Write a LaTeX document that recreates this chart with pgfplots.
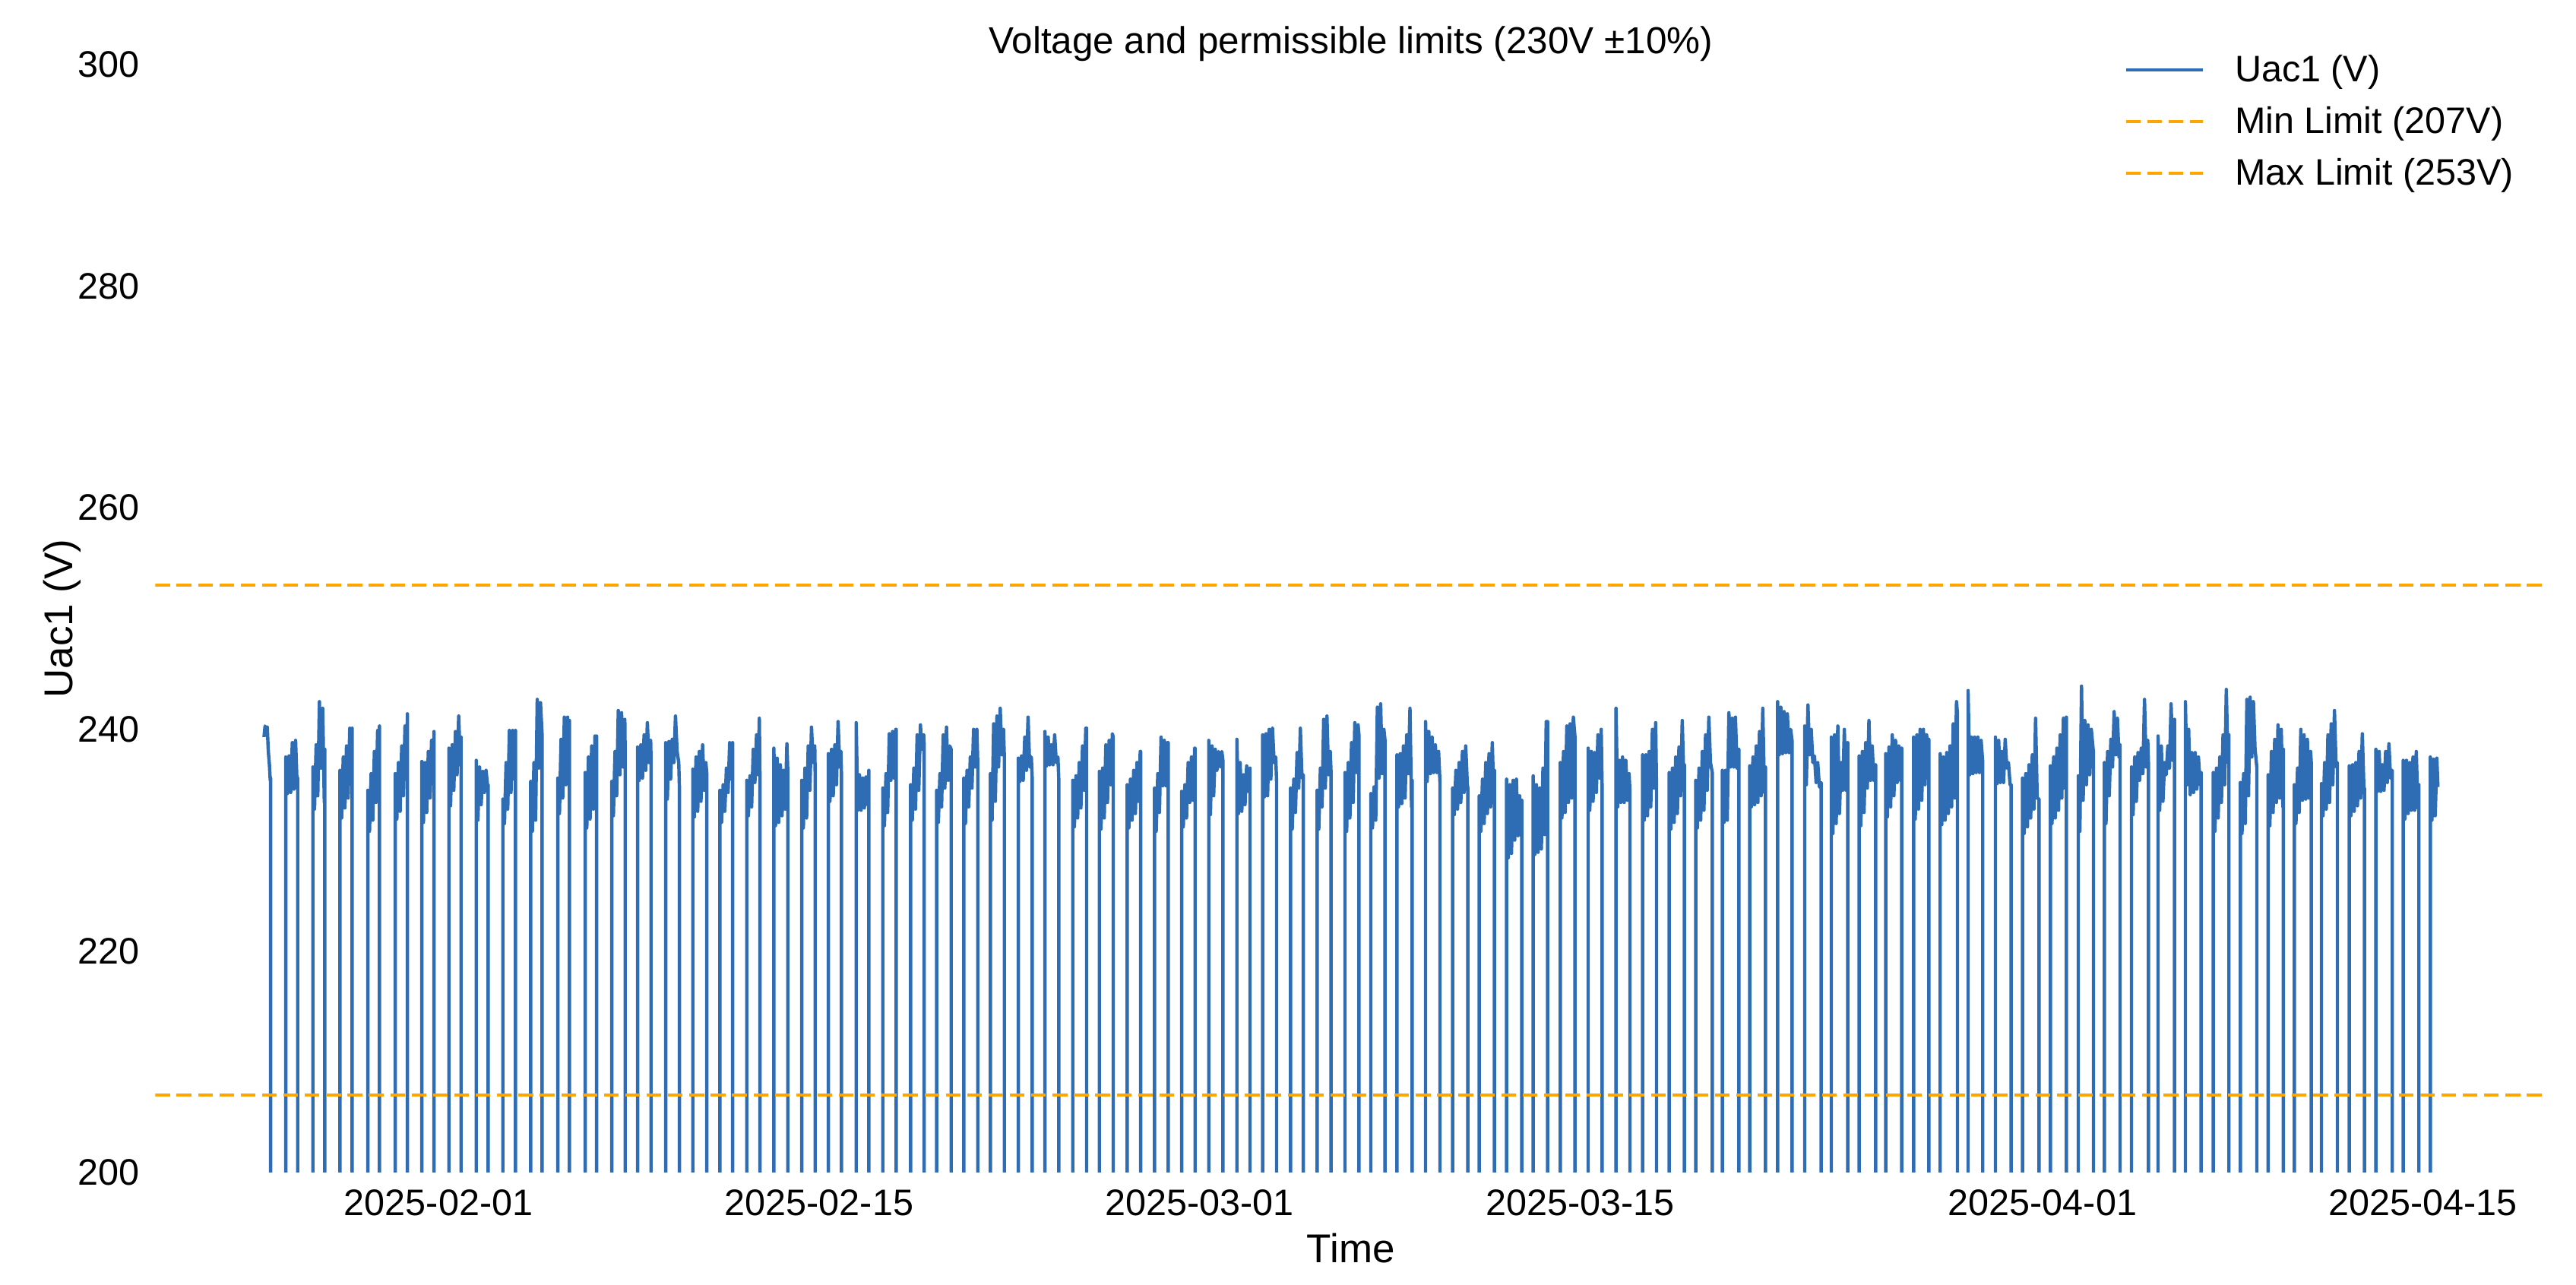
\documentclass[border=0pt]{standalone}
\usepackage{fontspec}
\setmainfont{Liberation Sans}
\usepackage{pgfplots}
\usepackage{pgfplotstable}
\pgfplotsset{compat=1.18}
\definecolor{uacblue}{RGB}{46,109,180}
\definecolor{limorange}{RGB}{255,165,0}
% x = days since 2025-02-01 00:00, y = Uac1 in V (0 = inverter off at night)
\pgfplotstableread[row sep=\\]{
x y\\
-6.419 239.3\\ -6.38 240.3\\ -6.34 239.5\\ -6.30 240.2\\ -6.26 238.0\\ -6.22 236.8\\ -6.19 235.4\\ -6.177 235.6\\ -6.177 0\\
-5.618 0\\ -5.618 237.5\\ -5.558 234.2\\ -5.498 237.6\\ -5.438 234.3\\ -5.378 238.8\\ -5.318 234.6\\ -5.258 239.0\\ -5.198 234.7\\ -5.180 235.6\\ -5.180 0\\
-4.621 0\\ -4.621 236.6\\ -4.561 232.8\\ -4.501 238.6\\ -4.441 234.0\\ -4.381 242.5\\ -4.321 236.5\\ -4.261 241.9\\ -4.201 233.4\\ -4.183 238.2\\ -4.183 0\\
-3.624 0\\ -3.624 236.3\\ -3.564 232.0\\ -3.504 237.5\\ -3.444 232.9\\ -3.384 238.5\\ -3.324 233.8\\ -3.264 240.1\\ -3.204 235.5\\ -3.177 240.1\\ -3.177 0\\
-2.599 0\\ -2.599 234.5\\ -2.539 230.8\\ -2.479 236.0\\ -2.419 231.8\\ -2.359 238.0\\ -2.299 233.4\\ -2.239 239.9\\ -2.185 235.5\\ -2.171 240.3\\ -2.171 0\\
-1.593 0\\ -1.593 236.0\\ -1.533 231.9\\ -1.473 237.0\\ -1.413 232.6\\ -1.353 238.5\\ -1.293 234.0\\ -1.233 240.3\\ -1.173 235.8\\ -1.146 241.4\\ -1.146 0\\
-0.615 0\\ -0.615 237.1\\ -0.555 231.6\\ -0.495 237.0\\ -0.435 232.5\\ -0.375 238.0\\ -0.315 233.8\\ -0.255 239.0\\ -0.195 235.6\\ -0.168 239.8\\ -0.168 0\\
0.382 0\\ 0.382 238.3\\ 0.442 233.1\\ 0.502 238.6\\ 0.562 234.5\\ 0.622 239.8\\ 0.682 235.9\\ 0.742 241.2\\ 0.802 236.8\\ 0.829 239.3\\ 0.829 0\\
1.388 0\\ 1.388 237.2\\ 1.448 231.8\\ 1.508 236.6\\ 1.568 233.2\\ 1.628 236.2\\ 1.688 234.3\\ 1.748 236.3\\ 1.808 234.8\\ 1.826 235.0\\ 1.826 0\\
2.366 0\\ 2.366 233.7\\ 2.426 231.5\\ 2.486 237.0\\ 2.546 232.8\\ 2.606 239.9\\ 2.666 234.3\\ 2.726 239.9\\ 2.786 235.5\\ 2.832 239.9\\ 2.832 0\\
3.391 0\\ 3.391 235.3\\ 3.451 230.8\\ 3.511 237.0\\ 3.571 231.8\\ 3.631 242.7\\ 3.691 236.5\\ 3.751 242.4\\ 3.810 239.5\\ 3.810 0\\
4.388 0\\ 4.388 235.6\\ 4.448 232.4\\ 4.508 239.1\\ 4.568 233.8\\ 4.628 241.1\\ 4.688 235.0\\ 4.748 241.1\\ 4.790 237.5\\ 4.816 240.8\\ 4.816 0\\
5.394 0\\ 5.394 236.1\\ 5.454 231.1\\ 5.514 237.5\\ 5.574 231.9\\ 5.634 238.5\\ 5.694 232.8\\ 5.754 239.4\\ 5.790 234.7\\ 5.813 239.4\\ 5.813 0\\
6.372 0\\ 6.372 235.3\\ 6.432 232.2\\ 6.492 238.0\\ 6.552 234.0\\ 6.612 241.7\\ 6.672 235.9\\ 6.732 241.5\\ 6.792 236.6\\ 6.852 240.9\\ 6.866 237.7\\ 6.866 0\\
7.322 0\\ 7.322 238.4\\ 7.382 235.4\\ 7.442 238.6\\ 7.502 235.6\\ 7.562 239.5\\ 7.622 236.3\\ 7.682 240.6\\ 7.742 237.0\\ 7.802 239.0\\ 7.816 237.5\\ 7.816 0\\
8.356 0\\ 8.356 238.8\\ 8.416 233.7\\ 8.476 238.9\\ 8.536 235.5\\ 8.596 239.1\\ 8.656 237.0\\ 8.716 241.2\\ 8.776 238.0\\ 8.836 237.0\\ 8.859 234.9\\ 8.859 0\\
9.353 0\\ 9.353 236.4\\ 9.413 232.1\\ 9.473 237.5\\ 9.533 232.6\\ 9.593 238.0\\ 9.653 233.5\\ 9.713 238.6\\ 9.773 234.5\\ 9.833 237.0\\ 9.865 236.1\\ 9.865 0\\
10.350 0\\ 10.350 234.5\\ 10.410 231.6\\ 10.470 235.0\\ 10.530 232.6\\ 10.590 236.5\\ 10.650 234.3\\ 10.710 238.8\\ 10.770 235.5\\ 10.816 238.8\\ 10.816 0\\
11.337 0\\ 11.337 235.4\\ 11.397 232.2\\ 11.457 235.8\\ 11.517 233.0\\ 11.577 238.2\\ 11.637 235.2\\ 11.697 239.5\\ 11.757 235.9\\ 11.800 241.0\\ 11.822 236.1\\ 11.822 0\\
12.334 0\\ 12.334 238.3\\ 12.394 231.3\\ 12.454 237.4\\ 12.514 231.6\\ 12.574 236.8\\ 12.634 232.2\\ 12.694 236.3\\ 12.754 232.8\\ 12.814 238.7\\ 12.847 236.2\\ 12.847 0\\
13.359 0\\ 13.359 235.4\\ 13.419 231.1\\ 13.479 236.5\\ 13.539 232.0\\ 13.599 238.5\\ 13.659 234.5\\ 13.719 240.2\\ 13.779 237.0\\ 13.839 238.5\\ 13.853 236.1\\ 13.853 0\\
14.337 0\\ 14.337 237.8\\ 14.397 233.5\\ 14.457 238.2\\ 14.517 234.0\\ 14.577 238.6\\ 14.637 235.0\\ 14.697 240.7\\ 14.757 236.6\\ 14.800 238.0\\ 14.822 235.9\\ 14.822 0\\
15.362 0\\ 15.362 240.6\\ 15.422 232.7\\ 15.482 235.9\\ 15.542 232.7\\ 15.602 235.6\\ 15.662 232.9\\ 15.722 235.7\\ 15.782 233.2\\ 15.828 236.3\\ 15.828 0\\
16.340 0\\ 16.340 234.7\\ 16.400 231.3\\ 16.460 236.0\\ 16.520 232.5\\ 16.580 239.6\\ 16.640 235.4\\ 16.700 239.8\\ 16.760 235.6\\ 16.820 240.0\\ 16.834 240.0\\ 16.834 0\\
17.365 0\\ 17.365 235.0\\ 17.425 231.8\\ 17.485 236.5\\ 17.545 232.8\\ 17.605 239.5\\ 17.665 234.5\\ 17.725 240.4\\ 17.785 238.2\\ 17.845 239.5\\ 17.859 238.8\\ 17.859 0\\
18.324 0\\ 18.324 234.5\\ 18.384 231.6\\ 18.444 236.0\\ 18.504 233.0\\ 18.564 239.5\\ 18.624 234.7\\ 18.684 240.2\\ 18.744 235.4\\ 18.804 238.5\\ 18.856 238.2\\ 18.856 0\\
19.321 0\\ 19.321 235.6\\ 19.381 231.5\\ 19.441 236.3\\ 19.501 233.0\\ 19.561 237.5\\ 19.621 234.7\\ 19.681 240.0\\ 19.741 236.6\\ 19.801 240.0\\ 19.834 237.0\\ 19.834 0\\
20.300 0\\ 20.300 236.0\\ 20.360 231.8\\ 20.420 240.5\\ 20.480 233.5\\ 20.540 241.2\\ 20.600 236.6\\ 20.660 241.9\\ 20.720 237.7\\ 20.780 240.0\\ 20.813 237.5\\ 20.813 0\\
21.325 0\\ 21.325 237.4\\ 21.385 235.3\\ 21.445 237.6\\ 21.505 235.4\\ 21.565 239.3\\ 21.625 236.3\\ 21.685 241.1\\ 21.745 236.6\\ 21.805 237.5\\ 21.837 235.6\\ 21.837 0\\
22.303 0\\ 22.303 239.8\\ 22.363 236.7\\ 22.423 239.3\\ 22.483 236.8\\ 22.543 238.6\\ 22.603 236.8\\ 22.663 239.5\\ 22.723 237.0\\ 22.783 237.5\\ 22.816 235.4\\ 22.816 0\\
23.328 0\\ 23.328 235.4\\ 23.388 231.2\\ 23.448 235.8\\ 23.508 232.0\\ 23.568 237.0\\ 23.628 232.9\\ 23.688 238.5\\ 23.748 234.5\\ 23.808 240.1\\ 23.840 240.1\\ 23.840 0\\
24.306 0\\ 24.306 236.2\\ 24.366 231.0\\ 24.426 236.5\\ 24.486 232.0\\ 24.546 238.6\\ 24.606 233.4\\ 24.666 239.0\\ 24.726 235.0\\ 24.786 239.6\\ 24.818 239.3\\ 24.818 0\\
25.331 0\\ 25.331 235.0\\ 25.391 231.1\\ 25.451 235.5\\ 25.511 231.8\\ 25.571 236.3\\ 25.631 232.4\\ 25.691 237.0\\ 25.751 233.5\\ 25.811 238.0\\ 25.825 238.0\\ 25.825 0\\
26.337 0\\ 26.337 234.7\\ 26.397 230.8\\ 26.457 236.0\\ 26.517 232.5\\ 26.577 239.3\\ 26.637 234.9\\ 26.697 239.0\\ 26.757 234.9\\ 26.817 238.8\\ 26.840 238.8\\ 26.840 0\\
27.334 0\\ 27.334 234.4\\ 27.394 231.2\\ 27.454 235.0\\ 27.514 232.0\\ 27.574 237.0\\ 27.634 233.4\\ 27.694 237.5\\ 27.754 233.6\\ 27.814 238.3\\ 27.828 238.3\\ 27.828 0\\
28.331 0\\ 28.331 239.0\\ 28.391 232.3\\ 28.451 238.5\\ 28.511 234.0\\ 28.571 238.2\\ 28.631 236.3\\ 28.691 238.0\\ 28.751 236.6\\ 28.811 238.0\\ 28.852 237.2\\ 28.852 0\\
29.365 0\\ 29.365 239.1\\ 29.425 232.4\\ 29.485 237.0\\ 29.545 232.6\\ 29.605 235.9\\ 29.665 233.2\\ 29.725 236.7\\ 29.785 234.4\\ 29.849 236.5\\ 29.849 0\\
30.315 0\\ 30.315 239.5\\ 30.375 233.9\\ 30.435 239.6\\ 30.495 234.0\\ 30.555 240.0\\ 30.615 235.5\\ 30.675 240.1\\ 30.735 237.0\\ 30.795 237.5\\ 30.827 235.2\\ 30.827 0\\
31.340 0\\ 31.340 234.7\\ 31.400 231.0\\ 31.460 235.5\\ 31.520 232.5\\ 31.580 237.9\\ 31.640 234.7\\ 31.700 240.1\\ 31.760 235.6\\ 31.806 235.9\\ 31.806 0\\
32.318 0\\ 32.318 234.5\\ 32.378 231.0\\ 32.438 236.5\\ 32.498 233.0\\ 32.558 240.9\\ 32.618 234.7\\ 32.678 241.2\\ 32.738 235.9\\ 32.798 238.0\\ 32.830 236.1\\ 32.830 0\\
33.343 0\\ 33.343 236.1\\ 33.403 230.8\\ 33.463 237.0\\ 33.523 232.0\\ 33.583 238.8\\ 33.643 233.4\\ 33.703 240.6\\ 33.763 236.1\\ 33.823 240.4\\ 33.855 239.5\\ 33.855 0\\
34.293 0\\ 34.293 234.2\\ 34.353 231.1\\ 34.413 234.8\\ 34.473 231.8\\ 34.533 242.0\\ 34.593 235.6\\ 34.653 242.3\\ 34.713 236.0\\ 34.773 240.0\\ 34.814 239.0\\ 34.814 0\\
35.252 0\\ 35.252 237.7\\ 35.312 233.0\\ 35.372 237.8\\ 35.432 233.3\\ 35.492 238.5\\ 35.552 233.8\\ 35.612 239.5\\ 35.672 236.0\\ 35.732 241.9\\ 35.790 233.0\\ 35.811 235.4\\ 35.811 0\\
36.305 0\\ 36.305 240.7\\ 36.365 235.3\\ 36.425 239.8\\ 36.485 236.0\\ 36.545 239.3\\ 36.605 236.1\\ 36.665 238.6\\ 36.725 236.1\\ 36.785 238.0\\ 36.836 235.2\\ 36.836 0\\
37.302 0\\ 37.302 234.7\\ 37.362 232.3\\ 37.422 236.3\\ 37.482 232.8\\ 37.542 237.0\\ 37.602 233.4\\ 37.662 238.0\\ 37.722 234.3\\ 37.782 238.5\\ 37.842 235.0\\ 37.861 234.7\\ 37.861 0\\
38.280 0\\ 38.280 234.0\\ 38.340 230.8\\ 38.400 235.5\\ 38.460 231.5\\ 38.520 237.0\\ 38.580 232.4\\ 38.640 237.8\\ 38.700 233.0\\ 38.760 238.8\\ 38.820 233.4\\ 38.839 236.3\\ 38.839 0\\
39.286 0\\ 39.286 235.5\\ 39.346 228.4\\ 39.406 235.0\\ 39.466 228.8\\ 39.526 235.4\\ 39.586 230.0\\ 39.646 235.5\\ 39.706 230.4\\ 39.766 234.0\\ 39.826 230.4\\ 39.845 233.6\\ 39.845 0\\
40.264 0\\ 40.264 235.8\\ 40.324 228.7\\ 40.384 235.0\\ 40.444 228.9\\ 40.504 234.7\\ 40.564 229.2\\ 40.624 236.5\\ 40.684 230.5\\ 40.744 240.7\\ 40.795 240.7\\ 40.795 0\\
41.261 0\\ 41.261 237.0\\ 41.321 232.0\\ 41.381 238.0\\ 41.441 232.5\\ 41.501 240.3\\ 41.561 233.4\\ 41.621 240.5\\ 41.681 233.8\\ 41.741 241.1\\ 41.802 239.3\\ 41.802 0\\
42.286 0\\ 42.286 238.3\\ 42.346 232.7\\ 42.406 238.0\\ 42.466 233.5\\ 42.526 237.9\\ 42.586 234.3\\ 42.646 239.5\\ 42.706 235.6\\ 42.766 240.0\\ 42.798 235.0\\ 42.798 0\\
43.311 0\\ 43.311 241.9\\ 43.371 233.0\\ 43.431 237.2\\ 43.491 233.4\\ 43.551 237.5\\ 43.611 233.4\\ 43.671 237.2\\ 43.731 233.6\\ 43.791 236.0\\ 43.823 234.4\\ 43.823 0\\
44.289 0\\ 44.289 237.7\\ 44.349 231.8\\ 44.409 237.7\\ 44.469 232.2\\ 44.529 238.0\\ 44.589 233.0\\ 44.649 240.0\\ 44.709 234.7\\ 44.769 240.6\\ 44.801 234.7\\ 44.801 0\\
45.267 0\\ 45.267 236.1\\ 45.327 231.0\\ 45.387 236.5\\ 45.447 231.6\\ 45.507 237.5\\ 45.567 232.4\\ 45.627 238.4\\ 45.687 234.0\\ 45.747 240.8\\ 45.807 235.2\\ 45.826 236.8\\ 45.826 0\\
46.245 0\\ 46.245 235.4\\ 46.305 231.1\\ 46.365 236.5\\ 46.425 231.8\\ 46.485 238.0\\ 46.545 232.7\\ 46.605 239.5\\ 46.665 234.5\\ 46.725 241.1\\ 46.785 237.0\\ 46.851 236.1\\ 46.851 0\\
47.223 0\\ 47.223 236.3\\ 47.283 231.6\\ 47.343 236.3\\ 47.403 231.8\\ 47.463 241.5\\ 47.523 236.6\\ 47.583 241.0\\ 47.643 236.6\\ 47.703 241.1\\ 47.763 236.5\\ 47.829 238.2\\ 47.829 0\\
48.229 0\\ 48.229 236.7\\ 48.289 233.0\\ 48.349 237.5\\ 48.409 233.2\\ 48.469 238.5\\ 48.529 233.4\\ 48.589 239.8\\ 48.649 234.0\\ 48.709 241.9\\ 48.769 234.3\\ 48.807 236.6\\ 48.807 0\\
49.254 0\\ 49.254 242.5\\ 49.314 237.7\\ 49.374 242.0\\ 49.434 237.8\\ 49.494 241.6\\ 49.554 237.9\\ 49.614 241.4\\ 49.674 237.9\\ 49.734 240.0\\ 49.785 239.0\\ 49.785 0\\
50.251 0\\ 50.251 240.3\\ 50.311 235.0\\ 50.371 242.2\\ 50.431 237.7\\ 50.491 240.0\\ 50.551 237.0\\ 50.611 237.6\\ 50.671 235.2\\ 50.731 237.0\\ 50.791 234.8\\ 50.857 235.2\\ 50.857 0\\
51.229 0\\ 51.229 239.3\\ 51.289 230.6\\ 51.349 239.5\\ 51.409 231.5\\ 51.469 240.3\\ 51.529 232.4\\ 51.589 237.0\\ 51.649 234.5\\ 51.709 240.0\\ 51.769 234.5\\ 51.835 238.8\\ 51.835 0\\
52.254 0\\ 52.254 237.6\\ 52.314 231.3\\ 52.374 238.0\\ 52.434 232.5\\ 52.494 238.8\\ 52.554 234.7\\ 52.614 240.8\\ 52.674 235.4\\ 52.734 238.5\\ 52.794 235.4\\ 52.860 236.8\\ 52.860 0\\
53.232 0\\ 53.232 237.8\\ 53.292 232.1\\ 53.352 238.4\\ 53.412 233.0\\ 53.472 239.5\\ 53.532 234.0\\ 53.592 239.0\\ 53.652 235.2\\ 53.712 238.5\\ 53.772 235.4\\ 53.819 238.3\\ 53.819 0\\
54.257 0\\ 54.257 239.3\\ 54.317 231.9\\ 54.377 239.5\\ 54.437 232.8\\ 54.497 240.0\\ 54.557 233.6\\ 54.617 240.0\\ 54.677 235.0\\ 54.737 239.5\\ 54.797 235.9\\ 54.816 239.1\\ 54.816 0\\
55.235 0\\ 55.235 237.8\\ 55.295 231.4\\ 55.355 237.5\\ 55.415 231.8\\ 55.475 237.9\\ 55.535 232.4\\ 55.595 238.5\\ 55.655 233.0\\ 55.715 240.5\\ 55.775 233.8\\ 55.835 242.5\\ 55.869 241.4\\ 55.869 0\\
56.260 0\\ 56.260 243.5\\ 56.320 235.9\\ 56.380 239.3\\ 56.440 236.0\\ 56.500 239.3\\ 56.560 236.1\\ 56.620 239.3\\ 56.680 236.1\\ 56.740 239.0\\ 56.800 237.0\\ 56.800 0\\
57.266 0\\ 57.266 239.3\\ 57.326 235.1\\ 57.386 239.0\\ 57.446 235.2\\ 57.506 238.0\\ 57.566 235.2\\ 57.626 239.1\\ 57.686 236.5\\ 57.746 237.0\\ 57.806 235.0\\ 57.844 235.0\\ 57.844 0\\
58.263 0\\ 58.263 235.6\\ 58.323 230.6\\ 58.383 236.0\\ 58.443 231.2\\ 58.503 236.8\\ 58.563 232.0\\ 58.623 237.7\\ 58.683 232.8\\ 58.743 241.0\\ 58.803 233.8\\ 58.869 233.7\\ 58.869 0\\
59.288 0\\ 59.288 236.7\\ 59.348 231.5\\ 59.408 237.5\\ 59.468 232.0\\ 59.528 238.3\\ 59.588 232.7\\ 59.648 239.5\\ 59.708 233.8\\ 59.768 241.0\\ 59.828 234.7\\ 59.875 241.1\\ 59.875 0\\
60.313 0\\ 60.313 235.8\\ 60.373 230.8\\ 60.433 243.9\\ 60.493 233.6\\ 60.553 240.8\\ 60.613 235.0\\ 60.673 240.4\\ 60.733 235.9\\ 60.793 240.0\\ 60.872 237.9\\ 60.872 0\\
61.273 0\\ 61.273 237.0\\ 61.333 231.5\\ 61.393 238.0\\ 61.453 234.0\\ 61.513 239.1\\ 61.573 236.6\\ 61.633 241.6\\ 61.693 237.7\\ 61.753 241.0\\ 61.813 237.5\\ 61.850 238.6\\ 61.850 0\\
62.270 0\\ 62.270 236.6\\ 62.330 232.3\\ 62.390 237.5\\ 62.450 233.5\\ 62.510 237.9\\ 62.570 235.4\\ 62.630 238.3\\ 62.690 236.0\\ 62.750 242.7\\ 62.810 236.6\\ 62.870 239.0\\ 62.894 237.0\\ 62.894 0\\
63.248 0\\ 63.248 239.4\\ 63.308 232.7\\ 63.368 238.5\\ 63.428 233.5\\ 63.488 237.0\\ 63.548 235.9\\ 63.608 238.5\\ 63.668 236.5\\ 63.728 242.3\\ 63.788 237.2\\ 63.853 240.9\\ 63.853 0\\
64.254 0\\ 64.254 242.5\\ 64.314 235.0\\ 64.374 240.0\\ 64.434 234.1\\ 64.494 237.9\\ 64.554 234.3\\ 64.614 237.9\\ 64.674 234.6\\ 64.734 237.5\\ 64.794 235.0\\ 64.832 236.1\\ 64.832 0\\
65.279 0\\ 65.279 236.1\\ 65.339 230.8\\ 65.399 236.5\\ 65.459 232.0\\ 65.519 237.5\\ 65.579 233.4\\ 65.639 239.5\\ 65.699 235.0\\ 65.759 243.6\\ 65.819 237.0\\ 65.856 239.5\\ 65.856 0\\
66.276 0\\ 66.276 235.2\\ 66.336 230.6\\ 66.396 236.0\\ 66.456 231.5\\ 66.516 242.7\\ 66.576 234.0\\ 66.636 242.9\\ 66.696 237.5\\ 66.756 242.5\\ 66.816 238.2\\ 66.881 236.6\\ 66.881 0\\
67.300 0\\ 67.300 235.9\\ 67.360 231.3\\ 67.420 238.0\\ 67.480 232.5\\ 67.540 239.1\\ 67.600 233.4\\ 67.660 240.4\\ 67.720 233.8\\ 67.780 240.0\\ 67.840 233.0\\ 67.859 238.2\\ 67.859 0\\
68.260 0\\ 68.260 235.0\\ 68.320 231.5\\ 68.380 236.5\\ 68.440 232.5\\ 68.500 240.0\\ 68.560 233.6\\ 68.620 239.5\\ 68.680 233.7\\ 68.740 239.1\\ 68.800 233.8\\ 68.860 238.0\\ 68.884 237.0\\ 68.884 0\\
69.257 0\\ 69.257 235.1\\ 69.317 232.2\\ 69.377 237.0\\ 69.437 232.8\\ 69.497 239.5\\ 69.557 233.4\\ 69.617 240.5\\ 69.677 235.0\\ 69.737 241.7\\ 69.797 236.6\\ 69.844 237.0\\ 69.844 0\\
70.282 0\\ 70.282 236.7\\ 70.342 232.2\\ 70.402 236.8\\ 70.462 232.6\\ 70.522 237.0\\ 70.582 233.1\\ 70.642 238.0\\ 70.702 233.8\\ 70.762 239.6\\ 70.822 234.5\\ 70.841 234.7\\ 70.841 0\\
71.260 0\\ 71.260 238.2\\ 71.320 234.4\\ 71.380 238.0\\ 71.440 234.4\\ 71.500 236.8\\ 71.560 234.5\\ 71.620 238.0\\ 71.680 235.2\\ 71.740 238.7\\ 71.800 235.6\\ 71.865 236.3\\ 71.865 0\\
72.266 0\\ 72.266 237.2\\ 72.326 231.9\\ 72.386 237.2\\ 72.446 232.4\\ 72.506 237.0\\ 72.566 232.7\\ 72.626 237.5\\ 72.686 232.7\\ 72.746 238.0\\ 72.806 232.9\\ 72.843 235.0\\ 72.843 0\\
73.263 0\\ 73.263 237.5\\ 73.323 231.8\\ 73.383 237.3\\ 73.443 232.2\\ 73.503 237.4\\ 73.542 234.8\\
}\uacdata
\begin{document}
\begin{tikzpicture}
\path[use as bounding box] (-69.46pt,-50.32pt) rectangle (1083.14pt,524.62pt);
\begin{axis}[
  at={(0pt,0pt)}, anchor=south west,
  scale only axis, width=1069.98pt, height=495.72pt,
  xmin=-10.42, xmax=77.54, ymin=200, ymax=300,
  xtick={0,14,28,42,59,73},
  xticklabels={2025-02-01,2025-02-15,2025-03-01,2025-03-15,2025-04-01,2025-04-15},
  ytick={200,220,240,260,280,300},
  yticklabels={200,220,240,260,280,300},
  major tick length=0pt,
  axis line style={draw=none},
  tick style={draw=none},
  xticklabel style={font=\fontsize{16.5}{19.8}\selectfont, anchor=north, inner sep=0pt, yshift=-7.5pt},
  yticklabel style={font=\fontsize{16.5}{19.8}\selectfont, anchor=east, inner sep=0pt, xshift=-6.9pt},
  title={Voltage and permissible limits (230V ±10\%)},
  every axis title/.style={at={(axis description cs:0.5,1)}, anchor=base, yshift=5pt, inner sep=0pt, font=\fontsize{16.8}{20}\selectfont},
  xlabel={Time},
  every axis x label/.style={at={(axis description cs:0.5,0)}, anchor=north, yshift=-26.9pt, inner sep=0pt, font=\fontsize{18}{21.6}\selectfont},
  ylabel={Uac1 (V)},
  every axis y label/.style={at={(axis description cs:-0.0347,0.5)}, rotate=90, anchor=base, inner sep=0pt, font=\fontsize{18}{21.6}\selectfont},
  legend cell align=left,
  legend style={draw=none, fill=none, inner sep=0pt, at={(axis description cs:0.8232,1.0105)}, anchor=north west, row sep=8.1pt, font=\fontsize{16.5}{19.8}\selectfont, nodes={inner sep=0pt, text height=12.6pt, text depth=2.4pt}},
  legend image code/.code={\draw[#1] (0pt,0pt) -- (34.3pt,0pt); \path (48pt,0pt);},
]
\addplot[color=uacblue, line width=1.5pt, line join=round] table[x=x, y=y] {\uacdata};
\addlegendentry{Uac1 (V)}
\addplot[color=limorange, line width=1.5pt, dash pattern=on 6.56pt off 3.0pt] coordinates {(-10.42,207) (77.54,207)};
\addlegendentry{Min Limit (207V)}
\addplot[color=limorange, line width=1.5pt, dash pattern=on 6.56pt off 3.0pt] coordinates {(-10.42,253) (77.54,253)};
\addlegendentry{Max Limit (253V)}
\end{axis}
\end{tikzpicture}
\end{document}
